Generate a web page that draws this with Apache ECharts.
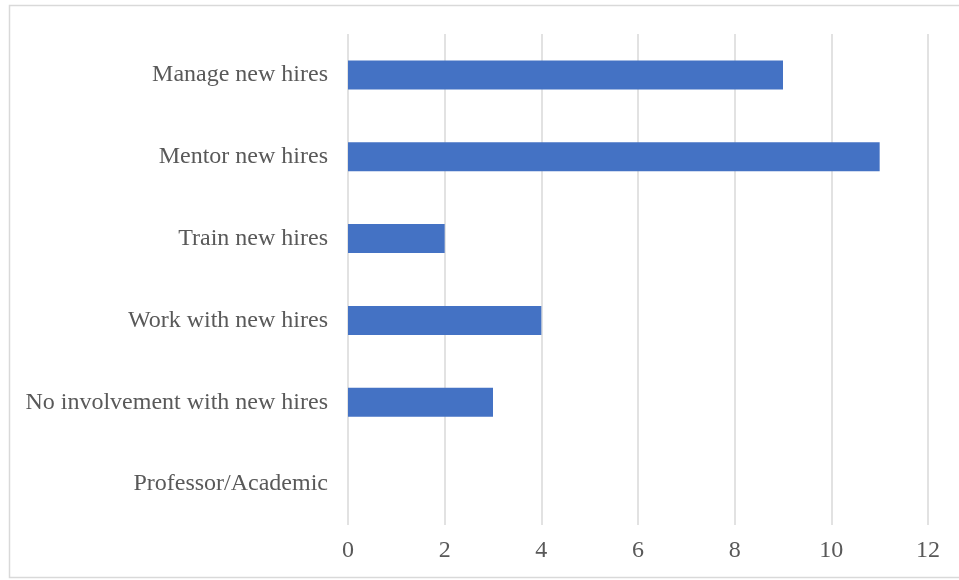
<!DOCTYPE html>
<html>
<head>
<meta charset="utf-8">
<style>
  html, body { margin: 0; padding: 0; background: #ffffff; }
  #chart { width: 959px; height: 580px; }
</style>
<script src="https://cdn.jsdelivr.net/npm/echarts@6/dist/echarts.min.js"></script>
</head>
<body>
<div id="chart"></div>
<script>
// Roles held with respect to new hires, top to bottom
const categories = [
  'Manage new hires',
  'Mentor new hires',
  'Train new hires',
  'Work with new hires',
  'No involvement with new hires',
  'Professor/Academic'
];
const counts = [9, 11, 2, 4, 3, 0];
const axisMin = 0;
const axisMax = 12;
const axisStep = 2;

const textColor = '#595959';
const fontFamily = '"Liberation Serif", "Times New Roman", serif';

const chart = echarts.init(document.getElementById('chart'), null, { renderer: 'canvas' });

chart.setOption({
  animation: false,
  backgroundColor: '#ffffff',
  graphic: [{
    type: 'rect',
    shape: { x: 9.5, y: 5.5, width: 980, height: 572 },
    style: { fill: 'none', stroke: '#d9d9d9', lineWidth: 1.5 },
    silent: true,
    z: -1
  }],
  grid: { left: 348, right: 31, top: 34, bottom: 55, containLabel: false },
  xAxis: {
    type: 'value',
    min: axisMin,
    max: axisMax,
    interval: axisStep,
    axisLine: { show: false },
    axisTick: { show: false },
    splitLine: { show: true, lineStyle: { color: '#d9d9d9', width: 1.5 } },
    axisLabel: { color: textColor, fontFamily: fontFamily, fontSize: 24, margin: 14 }
  },
  yAxis: {
    type: 'category',
    data: categories,
    inverse: true,
    axisLine: { show: false },
    axisTick: { show: false },
    splitLine: { show: false },
    axisLabel: { color: textColor, fontFamily: fontFamily, fontSize: 24, margin: 20 }
  },
  series: [{
    type: 'bar',
    data: counts,
    barWidth: 29,
    itemStyle: { color: '#4472C4' }
  }]
});
</script>
</body>
</html>
